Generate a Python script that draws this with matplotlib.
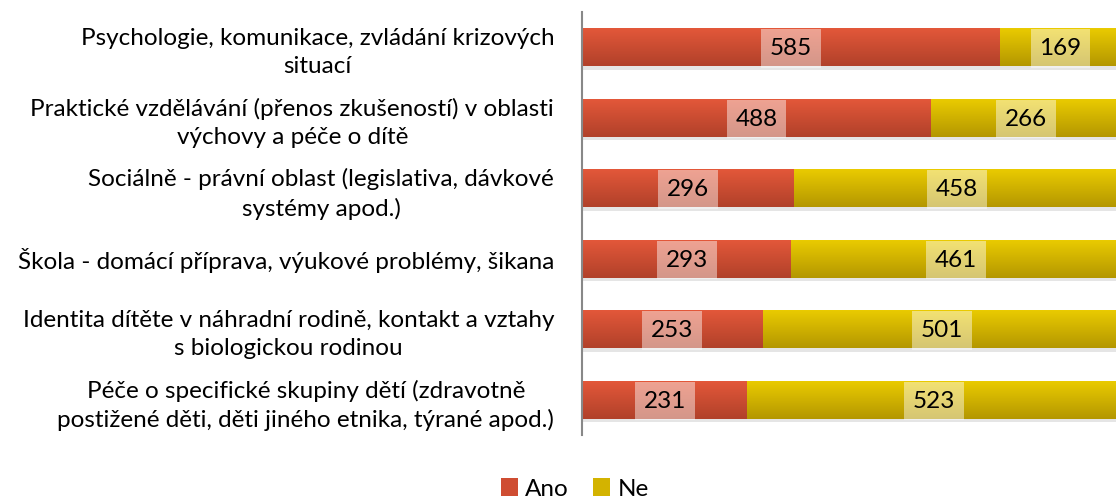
import numpy as np
import matplotlib.pyplot as plt
from matplotlib.colors import LinearSegmentedColormap
from matplotlib.patches import Patch

# Data
categories = [
    'Psychologie, komunikace, zvládání krizových\nsituací',
    'Praktické vzdělávání (přenos zkušeností) v oblasti\nvýchovy a péče o dítě',
    'Sociálně - právní oblast (legislativa, dávkové\nsystémy apod.)',
    'Škola - domácí příprava, výukové problémy, šikana',
    'Identita dítěte v náhradní rodině, kontakt a vztahy\ns biologickou rodinou',
    'Péče o specifické skupiny dětí (zdravotně\npostižené děti, děti jiného etnika, týrané apod.)',
]
ano = [585, 488, 296, 293, 253, 231]
ne = [169, 266, 458, 461, 501, 523]

plt.rcParams['font.family'] = ['Lato', 'DejaVu Sans']
fs = 17.5

red_top, red_bot = '#E4583A', '#B1412A'
yel_top, yel_bot = '#EBCC00', '#B49700'

fig = plt.figure(figsize=(11.16, 4.98), dpi=100)
ax = fig.add_axes([582 / 1116, 63 / 498, 539 / 1116, 423 / 498])

y = np.arange(len(categories))
h = 0.54
ano = np.array(ano)
ne = np.array(ne)
total = (ano + ne).max()

# soft shadow under the bars
ax.barh(y + 0.05, ano + ne, height=h, color='black', alpha=0.10, zorder=1)

def gradient_bars(bars, top, bot):
    cmap = LinearSegmentedColormap.from_list('g', [top, bot])
    grad = np.linspace(0, 1, 64).reshape(-1, 1)
    for b in bars:
        x0, y0 = b.get_x(), b.get_y()
        w, hh = b.get_width(), b.get_height()
        im = ax.imshow(grad, cmap=cmap, aspect='auto', zorder=2,
                       extent=[x0, x0 + w, y0 + hh, y0], interpolation='bilinear')
        im.set_clip_path(b)

b1 = ax.barh(y, ano, height=h, color=red_top, zorder=2)
b2 = ax.barh(y, ne, left=ano, height=h, color=yel_top, zorder=2)
gradient_bars(b1, red_top, red_bot)
gradient_bars(b2, yel_top, yel_bot)

# value labels
for i in range(len(y)):
    ax.text(ano[i] / 2, y[i] + 0.02, str(ano[i]), ha='center', va='center', fontsize=fs,
            color='black', zorder=5,
            bbox=dict(boxstyle='square,pad=0.36', facecolor='white', alpha=0.45, edgecolor='none'))
    ax.text(ano[i] + ne[i] / 2, y[i] + 0.02, str(ne[i]), ha='center', va='center', fontsize=fs,
            color='black', zorder=5,
            bbox=dict(boxstyle='square,pad=0.36', facecolor='white', alpha=0.45, edgecolor='none'))

ax.set_xlim(0, total)
ax.set_ylim(len(categories) - 0.5, -0.5)
ax.set_yticks(y)
ax.set_yticklabels(categories, fontsize=fs, multialignment='center', color='black',
                   linespacing=1.4)
ax.tick_params(axis='y', length=0, pad=20)
ax.set_xticks([])
for s in ['top', 'right', 'bottom']:
    ax.spines[s].set_visible(False)
ax.spines['left'].set_color('#888888')
ax.spines['left'].set_linewidth(1.5)

handles = [Patch(facecolor='#CF4D32', label='Ano'), Patch(facecolor='#D3B300', label='Ne')]
fig.legend(handles=handles, loc='center', bbox_to_anchor=(575 / 1116, 9 / 498), ncol=2,
           frameon=False, fontsize=fs, handlelength=0.7, handleheight=0.7,
           handletextpad=0.3, columnspacing=1.0)

fig.savefig('out.png', dpi=100)
